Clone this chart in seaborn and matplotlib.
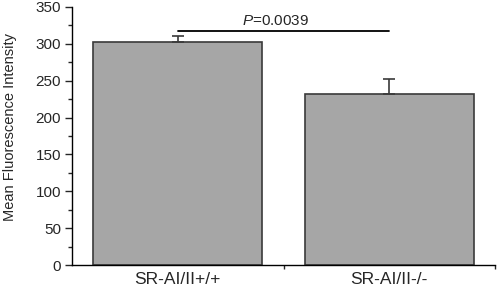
import matplotlib
matplotlib.use('Agg')
import matplotlib.pyplot as plt
import seaborn as sns
import pandas as pd
from matplotlib.ticker import MultipleLocator

# DANE
groups = ['SR-AI/II+/+', 'SR-AI/II-/-']
means = [303, 232]
sem = [7, 20]
p_label = '$\\it{P}$=0.0039'

df = pd.DataFrame({'group': groups, 'mfi': means})

sns.set_style('ticks')
plt.rcParams['font.family'] = ['Liberation Sans', 'DejaVu Sans']
plt.rcParams['mathtext.fontset'] = 'custom'
plt.rcParams['mathtext.it'] = 'Liberation Sans:italic'
plt.rcParams['mathtext.rm'] = 'Liberation Sans'

fig = plt.figure(figsize=(4.98, 2.89), dpi=100)
ax = fig.add_axes([0.1446, 0.083, 0.8494, 0.893])

sns.barplot(data=df, x='group', y='mfi', color='#a6a6a6', edgecolor='#3a3a3a',
            linewidth=1.2, width=0.8, errorbar=None, saturation=1, ax=ax)

# tylko górne słupki błędów
ax.errorbar(range(len(groups)), means, yerr=[[0] * len(sem), sem], fmt='none',
            ecolor='#3a3a3a', elinewidth=1.2, capsize=4, capthick=1.2, zorder=1)

# linia istotności
y_line = 318
ax.plot([0, 1], [y_line, y_line], color='black', linewidth=1.3)
ax.text(0.46, y_line + 4, p_label, ha='center', va='bottom', fontsize=11)

ax.set_xlim(-0.5, 1.5)
ax.set_ylim(0, 350)
ax.yaxis.set_major_locator(MultipleLocator(50))
ax.yaxis.set_minor_locator(MultipleLocator(25))
ax.set_xticks([0, 1])
ax.set_xticks([0.5, 1.5], minor=True)
ax.tick_params(axis='x', which='major', length=0, labelsize=12.5, pad=5)
ax.tick_params(axis='x', which='minor', length=3, width=1)
ax.tick_params(axis='y', which='major', length=5, width=1, labelsize=11, pad=3)
ax.tick_params(axis='y', which='minor', length=3, width=1)
for s in ['left', 'bottom']:
    ax.spines[s].set_linewidth(1)
    ax.spines[s].set_color('black')
sns.despine(ax=ax)

ax.set_xlabel('')
ax.set_ylabel('Mean Fluorescence Intensity', fontsize=10.5)
ax.yaxis.set_label_coords(-0.13, 0.535)

fig.savefig('out.png', dpi=100)
